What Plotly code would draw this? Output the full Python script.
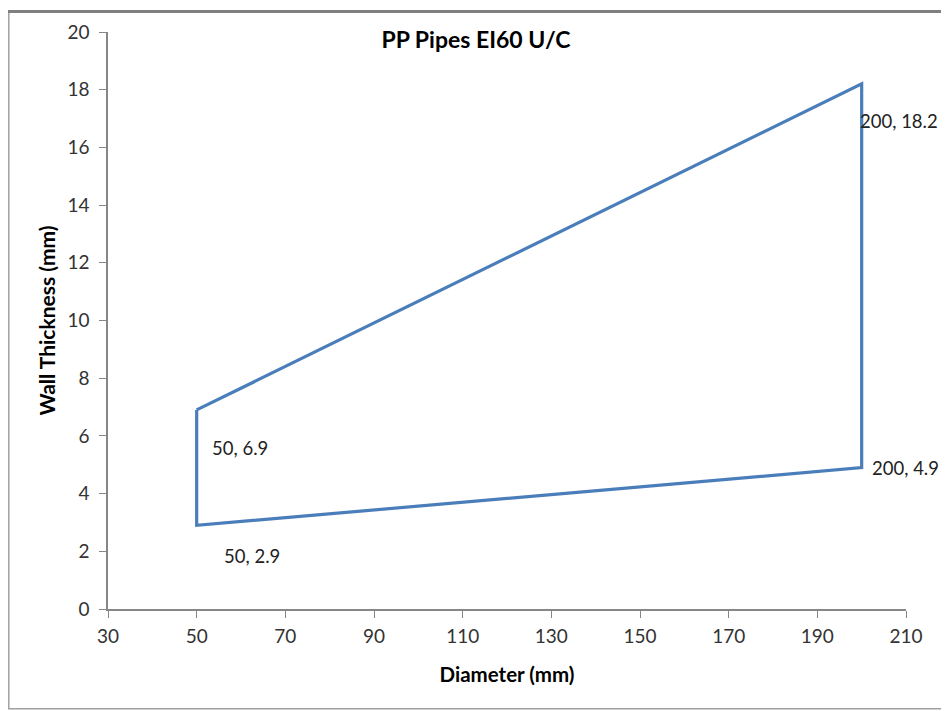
import plotly.graph_objects as go

# closed outline: (50,6.9) -> (200,18.2) -> (200,4.9) -> (50,2.9) -> back
diameter = [50, 200, 200, 50, 50]
thickness = [6.9, 18.2, 4.9, 2.9, 6.9]

label_x = [50, 50, 200, 200]
label_y = [6.9, 2.9, 18.2, 4.9]
label_text = ["50, 6.9", "50, 2.9", "200, 18.2", "200, 4.9"]
label_dx = [43, 55, 37, 44]
label_dy = [-38, -31, -37, 0]

font_family = "Lato, Carlito, 'Open Sans', sans-serif"
axis_col = "#868686"

fig = go.Figure()
fig.add_trace(go.Scatter(
    x=diameter, y=thickness, mode="lines",
    line=dict(color="#4A7EBB", width=3.2),
    showlegend=False, hoverinfo="skip",
))

for x, y, t, dx, dy in zip(label_x, label_y, label_text, label_dx, label_dy):
    fig.add_annotation(x=x, y=y, text=t, showarrow=False,
                       xshift=dx, yshift=dy,
                       font=dict(size=18.5, color="#222222", family=font_family))

# page has an 8px body margin, so the figure is sized/offset for it
W, H = 941, 703
ml, mr, mt, mb = 100, 43, 22, 102
pw, ph = W - ml - mr, H - mt - mb
def px(v): return (v - ml) / pw
def py(v): return (H - mb - v) / ph

# chart frame
fig.add_shape(type="rect", xref="paper", yref="paper",
              x0=px(0.8), x1=px(936), y0=py(701), y1=py(1),
              line=dict(color="#a0a0a0", width=1.5), layer="below")
fig.add_shape(type="line", xref="paper", yref="paper",
              x0=px(0), x1=px(938), y0=py(1.5), y1=py(1.5),
              line=dict(color="#7f7f7f", width=3))
fig.add_shape(type="line", xref="paper", yref="paper",
              x0=px(936), x1=px(936), y0=py(1), y1=py(701),
              line=dict(color="#7f7f7f", width=3))

fig.update_layout(
    width=W, height=H,
    margin=dict(l=ml, r=mr, t=mt, b=mb),
    paper_bgcolor="white", plot_bgcolor="white",
    font=dict(family=font_family, size=19, color="#333333"),
    title=dict(text="<b>PP Pipes EI60 U/C</b>", x=468 / W, xanchor="center",
               y=1 - 32 / H, yanchor="middle", xref="container", yref="container",
               font=dict(size=23, color="#000000", family=font_family)),
    xaxis=dict(range=[30, 210], tickvals=[30, 50, 70, 90, 110, 130, 150, 170, 190, 210],
               showgrid=False, zeroline=False, showline=True, linecolor=axis_col, linewidth=1.5,
               ticks="outside", ticklen=7, tickcolor=axis_col, ticklabelstandoff=2,
               title=dict(text="<b>Diameter (mm)</b>", standoff=22,
                          font=dict(size=20.5, color="#000000"))),
    yaxis=dict(range=[0, 20], tickvals=list(range(0, 21, 2)),
               showgrid=False, zeroline=False, showline=True, linecolor=axis_col, linewidth=1.5,
               ticks="outside", ticklen=7, tickcolor=axis_col, ticklabelstandoff=6,
               title=dict(text="<b>Wall Thickness (mm)</b>", standoff=6,
                          font=dict(size=21, color="#000000"))),
)

fig.write_html("out.html")
